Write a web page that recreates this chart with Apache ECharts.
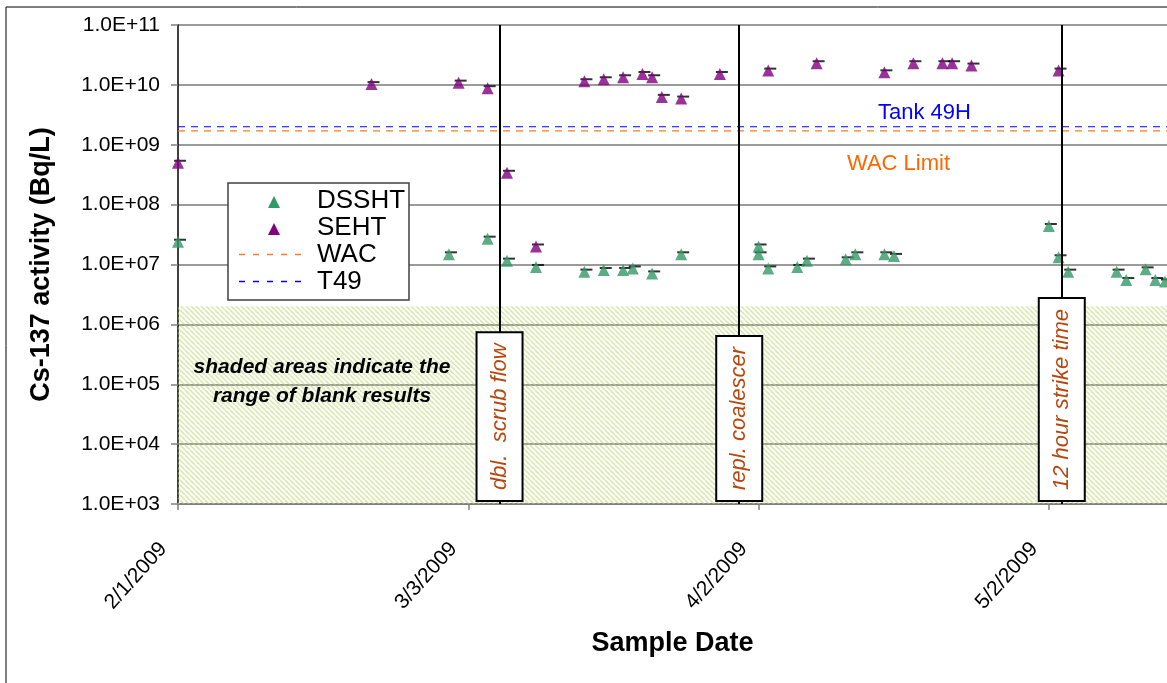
<!DOCTYPE html>
<html><head><meta charset="utf-8">
<script src="https://cdn.jsdelivr.net/npm/echarts@6/dist/echarts.min.js"></script>
<style>html,body{margin:0;padding:0;background:#fff}#c{width:1167px;height:683px}</style>
</head><body><div id="c"></div>
<script>
// ---------------- data ----------------
const START_DATE = '2/1/2009';
const END_DATE = '5/14/2009 05:00';
const TICK_DAYS = 30;
const Y_MIN = 1e3, Y_MAX = 1e11;

const dsshtDates = ['2/1/2009','3/1/2009','3/5/2009','3/7/2009','3/10/2009','3/15/2009','3/17/2009','3/19/2009','3/20/2009','3/22/2009','3/25/2009','4/2/2009','4/2/2009','4/3/2009','4/6/2009','4/7/2009','4/11/2009','4/12/2009','4/15/2009','4/16/2009','5/2/2009','5/3/2009','5/4/2009','5/9/2009','5/10/2009','5/12/2009','5/13/2009','5/14/2009'];
const dsshtValues = [2.4e7,1.48e7,2.7e7,1.16e7,9.1e6,7.6e6,8.1e6,8.1e6,8.6e6,7.1e6,1.48e7,2.0e7,1.48e7,8.6e6,9.1e6,1.16e7,1.22e7,1.48e7,1.48e7,1.39e7,4.4e7,1.32e7,7.6e6,7.6e6,5.5e6,8.3e6,5.5e6,5.2e6];

const sehtDates = ['2/1/2009','2/21/2009','3/2/2009','3/5/2009','3/7/2009','3/10/2009','3/15/2009','3/17/2009','3/19/2009','3/21/2009','3/22/2009','3/23/2009','3/25/2009','3/29/2009','4/3/2009','4/8/2009','4/15/2009','4/18/2009','4/21/2009','4/22/2009','4/24/2009','5/3/2009'];
const sehtValues = [5.0e8,1.03e10,1.09e10,8.8e9,3.4e8,2.0e7,1.15e10,1.24e10,1.34e10,1.52e10,1.34e10,6.3e9,5.9e9,1.52e10,1.73e10,2.3e10,1.62e10,2.3e10,2.3e10,2.3e10,2.1e10,1.73e10];

const WAC_LIMIT = 1.7e9;
const T49_LEVEL = 2.0e9;
const BLANK_RANGE = [1e3, 2e6];

const eventDates = ['3/6/2009 05:30','3/31/2009 00:00','5/3/2009 08:00'];
const eventLabels = ['dbl.  scrub flow','repl. coalescer','12 hour strike time'];

const seriesNames = ['DSSHT','SEHT','WAC','T49'];
const seriesColors = ['#339966','#800080','#ff7a2a','#0000ff'];
const yTitle = 'Cs-137 activity (Bq/L)';
const xTitle = 'Sample Date';
const noteText = 'shaded areas indicate the\nrange of blank results';
const tankLabel = 'Tank 49H';
const wacLabel = 'WAC Limit';

// ---------------- helpers ----------------
function toMs(s){
  const parts = s.split(' ');
  const [m,d,y] = parts[0].split('/').map(Number);
  let ms = Date.UTC(y, m-1, d);
  if (parts[1]) { const [h,mi] = parts[1].split(':').map(Number); ms += (h*60+mi)*60000; }
  return ms;
}
const T0 = toMs(START_DATE);
const toDay = s => (toMs(s) - T0) / 86400000;
const X_MAX = toDay(END_DATE);
function fmtDay(v){
  if (Math.abs(v/TICK_DAYS - Math.round(v/TICK_DAYS)) > 1e-6) return '';
  const dt = new Date(T0 + v*86400000);
  return (dt.getUTCMonth()+1) + '/' + dt.getUTCDate() + '/' + dt.getUTCFullYear();
}
function fmtLog(v){
  const e = Math.round(Math.log10(v));
  return '1.0E+' + (e < 10 ? '0' + e : e);
}
const FONT = "'Liberation Sans', Arial, sans-serif";

const dssht = dsshtDates.map((d,i)=>[toDay(d), dsshtValues[i]]);
const seht = sehtDates.map((d,i)=>[toDay(d), sehtValues[i]]);
const eventDays = eventDates.map(toDay);

// hatch pattern
const hatch = document.createElement('canvas');
hatch.width = 5; hatch.height = 5;
(function(){
  const c = hatch.getContext('2d');
  c.strokeStyle = 'rgba(185,215,110,0.55)';
  c.lineWidth = 1.6;
  for (const o of [-5,0,5]) { c.beginPath(); c.moveTo(o,0); c.lineTo(o+5,5); c.stroke(); }
})();

const chart = echarts.init(document.getElementById('c'));
const option = {
  animation: false,
  textStyle: {fontFamily: FONT},
  grid: {left: 178, top: 25, right: 0, bottom: 179, containLabel: false},
  xAxis: {
    type: 'value', min: 0, max: X_MAX, interval: TICK_DAYS,
    splitLine: {show: false},
    axisLine: {onZero: false, lineStyle: {color: '#808080', width: 2}},
    axisTick: {length: 6, lineStyle: {color: '#808080', width: 1.5}},
    axisLabel: {rotate: 48, fontSize: 21, color: '#000', margin: 25, padding: [0, 22, 0, 0], formatter: fmtDay, showMaxLabel: false},
    name: xTitle, nameLocation: 'middle', nameGap: 126,
    nameTextStyle: {fontSize: 27, fontWeight: 'bold', color: '#000'}
  },
  yAxis: {
    type: 'log', logBase: 10, min: Y_MIN, max: Y_MAX,
    axisLine: {onZero: false, lineStyle: {color: '#000', width: 1.5}},
    axisTick: {length: 7, lineStyle: {color: '#808080', width: 1.5}},
    splitLine: {lineStyle: {color: '#7a7a7a', width: 1.5}},
    axisLabel: {fontSize: 21, color: '#000', margin: 18, formatter: fmtLog},
    name: yTitle, nameLocation: 'middle', nameGap: 123,
    nameTextStyle: {fontSize: 27, fontWeight: 'bold', color: '#000'}
  },
  series: [
    {name: 'DSSHT_dash', type: 'scatter', data: dssht, symbol: 'rect', symbolSize: [12, 2], symbolOffset: [2, -2],
     itemStyle: {color: '#000'}, z: 3, silent: true},
    {name: 'SEHT_dash', type: 'scatter', data: seht, symbol: 'rect', symbolSize: [12, 2], symbolOffset: [2, -2],
     itemStyle: {color: '#000'}, z: 3, silent: true},
    {name: seriesNames[0], type: 'scatter', data: dssht, symbol: 'triangle', symbolSize: 12,
     itemStyle: {color: seriesColors[0]}, z: 4},
    {name: seriesNames[1], type: 'scatter', data: seht, symbol: 'triangle', symbolSize: 12,
     itemStyle: {color: seriesColors[1]}, z: 4},
    {name: seriesNames[2], type: 'line', data: [[0, WAC_LIMIT], [X_MAX, WAC_LIMIT]], symbol: 'none',
     lineStyle: {color: seriesColors[2], width: 1.3, type: [7, 6]}, z: 2,
     markArea: {silent: true, itemStyle: {color: {image: hatch, repeat: 'repeat'}},
       data: [[{coord: [0, BLANK_RANGE[0]]}, {coord: [X_MAX, BLANK_RANGE[1]]}]]}},
    {name: seriesNames[3], type: 'line', data: [[0, T49_LEVEL], [X_MAX, T49_LEVEL]], symbol: 'none',
     lineStyle: {color: seriesColors[3], width: 1.2, type: [7, 6]}, z: 2,
     markLine: {silent: true, symbol: 'none', label: {show: false},
       lineStyle: {color: '#000', width: 2, type: 'solid'},
       data: eventDays.map(d => [{coord: [d, Y_MIN]}, {coord: [d, Y_MAX]}])}}
  ]
};
chart.setOption(option);

const yBottom = chart.convertToPixel({yAxisIndex: 0}, Y_MIN);
const graphics = [
  {type: 'rect', shape: {x: 6, y: 7, width: 1300, height: 800}, style: {fill: 'none', stroke: '#000', lineWidth: 1}, z: 0, silent: true},
  {type: 'text', x: 878, y: 113, z: 50, style: {text: tankLabel, fill: '#0000ff', font: '22px ' + FONT, align: 'left', verticalAlign: 'middle'}},
  {type: 'text', x: 847, y: 164, z: 50, style: {text: wacLabel, fill: '#ff6600', font: '22px ' + FONT, align: 'left', verticalAlign: 'middle'}},
  {type: 'text', x: 322, y: 382, z: 50, style: {text: noteText, fill: '#000', font: 'italic bold 21px ' + FONT, lineHeight: 29, align: 'center', verticalAlign: 'middle'}}
];
// legend box (drawn with graphic elements)
const LG = {x: 228, y: 183, w: 181, h: 117, row0: 200.5, rowH: 27, iconX0: 239, iconX1: 309, textX: 317};
graphics.push({type: 'rect', shape: {x: LG.x, y: LG.y, width: LG.w, height: LG.h}, z: 60,
  style: {fill: '#fff', stroke: '#404040', lineWidth: 1.5}});
seriesNames.forEach((n, i) => {
  const cy = LG.row0 + i * LG.rowH;
  const cx = (LG.iconX0 + LG.iconX1) / 2;
  if (i < 2) {
    graphics.push({type: 'polygon', z: 61, shape: {points: [[cx - 6, cy + 7.5], [cx + 6, cy + 7.5], [cx, cy - 4.5]]},
      style: {fill: seriesColors[i]}});
  } else {
    graphics.push({type: 'line', z: 61, shape: {x1: LG.iconX0, y1: cy, x2: LG.iconX1, y2: cy},
      style: {stroke: seriesColors[i], lineWidth: 1.5, lineDash: [6, 8]}});
  }
  graphics.push({type: 'text', x: LG.textX, y: cy, z: 61,
    style: {text: n, fill: '#000', font: '26px ' + FONT, align: 'left', verticalAlign: 'middle'}});
});
// event boxes
eventDays.forEach((d, i) => {
  graphics.push({
    type: 'text', x: chart.convertToPixel({xAxisIndex: 0}, d), y: yBottom - 4, rotation: Math.PI / 2, z: 100,
    style: {text: eventLabels[i], fill: '#b8470f', font: 'italic 22px ' + FONT, align: 'left', verticalAlign: 'middle',
      backgroundColor: '#fff', borderColor: '#000', borderWidth: 2, padding: [11, 10, 11, 10]}
  });
});
chart.setOption({graphic: graphics});
</script>
</body></html>
